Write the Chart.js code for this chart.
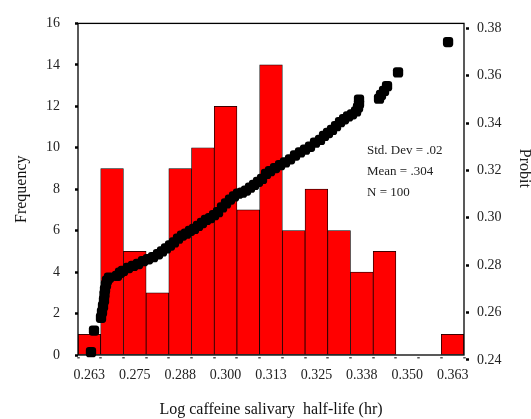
<!DOCTYPE html>
<html><head><meta charset="utf-8">
<style>html,body{margin:0;padding:0;background:#fff;}canvas{display:block;}</style>
<script src="https://cdn.jsdelivr.net/npm/chart.js@4"></script>
</head><body>
<canvas id="c" width="531" height="419"></canvas>
<script>
// Histogram bins (log caffeine salivary half-life), centres of each bin
const binCenters = [0.2625, 0.26875, 0.275, 0.28125, 0.2875, 0.29375, 0.3, 0.30625, 0.3125,
  0.31875, 0.325, 0.33125, 0.3375, 0.34375, 0.35, 0.35625, 0.3625];
const frequencies = [1, 9, 5, 3, 9, 10, 12, 7, 14, 6, 8, 6, 4, 5, 0, 0, 1];
const xTickLabels = ['0.263', '0.275', '0.288', '0.300', '0.313', '0.325', '0.338', '0.350', '0.363'];
const freqTicks = [0, 2, 4, 6, 8, 10, 12, 14, 16];
const probitTicks = [0.24, 0.26, 0.28, 0.30, 0.32, 0.34, 0.36, 0.38];

// Probit plot points (x = log half-life, y = probit)
const probitX = [0.26295, 0.26378, 0.26571, 0.26598, 0.26626, 0.26653, 0.26667, 0.26681, 0.26708, 0.26736,
  0.26791, 0.27011, 0.27094, 0.27176, 0.27314, 0.27452, 0.27589, 0.27727, 0.27865, 0.28002,
  0.2814, 0.2825, 0.2836, 0.2847, 0.2858, 0.28691, 0.28801, 0.28911, 0.29021, 0.29131,
  0.29241, 0.29351, 0.29461, 0.29572, 0.29682, 0.29792, 0.29902, 0.30012, 0.30122, 0.30232,
  0.30342, 0.30452, 0.30563, 0.30673, 0.30783, 0.30893, 0.31003, 0.31113, 0.31223, 0.31361,
  0.31499, 0.31636, 0.31774, 0.31912, 0.32049, 0.32187, 0.32324, 0.32462, 0.326, 0.3271,
  0.3282, 0.3293, 0.3304, 0.3315, 0.33261, 0.33371, 0.33481, 0.33591, 0.33646, 0.33673,
  0.33673, 0.34224, 0.34279, 0.34362, 0.34444, 0.34747, 0.36124];
const probitY = [0.2433, 0.2524, 0.2578, 0.2602, 0.2627, 0.2652, 0.2677, 0.2697, 0.2718, 0.2735,
  0.2747, 0.2755, 0.2768, 0.2776, 0.2788, 0.2797, 0.2805, 0.2817, 0.2825, 0.2834,
  0.2846, 0.2858, 0.2871, 0.2883, 0.2896, 0.2912, 0.2925, 0.2933, 0.2945, 0.2953,
  0.2966, 0.2978, 0.2991, 0.2999, 0.3011, 0.3024, 0.3044, 0.3061, 0.3077, 0.3090,
  0.3102, 0.3106, 0.3115, 0.3127, 0.3139, 0.3152, 0.3164, 0.3185, 0.3197, 0.3210,
  0.3222, 0.3234, 0.3247, 0.3263, 0.3276, 0.3288, 0.3300, 0.3317, 0.3329, 0.3346,
  0.3358, 0.3371, 0.3387, 0.3404, 0.3416, 0.3428, 0.3437, 0.3449, 0.3466, 0.3482,
  0.3499, 0.3503, 0.3519, 0.3536, 0.3556, 0.3614, 0.3742];

const statsLines = ['Std. Dev = .02', 'Mean = .304', 'N = 100'];

const SERIF = "'Liberation Serif', 'Times New Roman', serif";
Chart.defaults.font.family = SERIF;
Chart.defaults.color = '#222';

const framePlugin = {
  id: 'frame',
  afterDatasetsDraw(chart) {
    const {ctx, chartArea: a} = chart;
    ctx.save();
    ctx.strokeStyle = '#000';
    ctx.lineWidth = 1.3;
    ctx.strokeRect(a.left, a.top, a.right - a.left, a.bottom - a.top);
    ctx.restore();
  },
  afterDraw(chart) {
    const {ctx, chartArea: a} = chart;
    ctx.save();
    ctx.font = '13px ' + SERIF;
    ctx.fillStyle = '#222';
    ctx.textBaseline = 'middle';
    ctx.textAlign = 'left';
    statsLines.forEach((t, i) => ctx.fillText(t, a.left + 289, a.top + 127 + i * 21.2));
    ctx.font = '16px ' + SERIF;
    ctx.translate(chart.width - 7, a.top + 145);
    ctx.rotate(Math.PI / 2);
    ctx.textAlign = 'center';
    ctx.fillText('Probit', 0, 0);
    ctx.restore();
  }
};

new Chart(document.getElementById('c'), {
  type: 'bar',
  data: {
    datasets: [
      {
        type: 'scatter',
        data: probitX.map((x, i) => ({x: x, y: probitY[i]})),
        xAxisID: 'x', yAxisID: 'y2',
        pointStyle: 'rectRounded', pointRadius: 6,
        backgroundColor: '#000', borderColor: '#000', borderWidth: 0,
        clip: false, order: 0
      },
      {
        type: 'bar',
        data: binCenters.map((x, i) => ({x: x, y: frequencies[i]})),
        xAxisID: 'x', yAxisID: 'y',
        backgroundColor: '#FF0000', borderColor: '#000', borderWidth: 0.75,
        borderSkipped: false, categoryPercentage: 1, barPercentage: 1, order: 1
      }
    ]
  },
  options: {
    responsive: false, animation: false, devicePixelRatio: 1,
    layout: {padding: {top: 16, left: 0, right: 0, bottom: 0}},
    plugins: {legend: {display: false}, tooltip: {enabled: false}},
    scales: {
      x: {
        type: 'linear', position: 'bottom', min: 0.259375, max: 0.365625, offset: false,
        afterBuildTicks: s => { s.ticks = binCenters.map(v => ({value: v})); },
        afterFit: s => { s.height = 64; },
        grid: {drawOnChartArea: false, drawTicks: true, tickLength: 4, tickWidth: 2.5,
          tickColor: '#555', tickBorderDash: [0.01, 2, 1.5, 20]},
        border: {display: false},
        ticks: {autoSkip: false, maxRotation: 0, minRotation: 0, padding: 8, font: {size: 14},
          callback: (v, i) => (i % 2 === 0 ? xTickLabels[i / 2] : '')},
        title: {display: true, text: 'Log caffeine salivary  half-life (hr)', font: {size: 16},
          padding: {top: 0, bottom: 0}, color: '#111'}
      },
      y: {
        type: 'linear', position: 'left', min: 0, max: 16,
        afterBuildTicks: s => { s.ticks = freqTicks.map(v => ({value: v})); },
        afterFit: s => { s.width = 78; },
        grid: {drawOnChartArea: false, tickLength: 3, tickWidth: 2.5, tickColor: '#000'},
        border: {display: false},
        ticks: {padding: 15, font: {size: 14}},
        title: {display: true, text: 'Frequency', font: {size: 16}, padding: {top: 12, bottom: 0}, color: '#111'}
      },
      y2: {
        type: 'linear', position: 'right', min: 0.24207, max: 0.38207,
        afterBuildTicks: s => { s.ticks = probitTicks.map(v => ({value: v})); },
        afterFit: s => { s.width = 67; },
        grid: {drawOnChartArea: false, tickLength: 5, tickWidth: 2.5, tickColor: '#000',
          tickBorderDash: [0.01, 2, 3, 20]},
        border: {display: false},
        ticks: {padding: 8, font: {size: 14}, callback: v => v.toFixed(2)}
      }
    }
  },
  plugins: [framePlugin]
});
</script>
</body></html>
